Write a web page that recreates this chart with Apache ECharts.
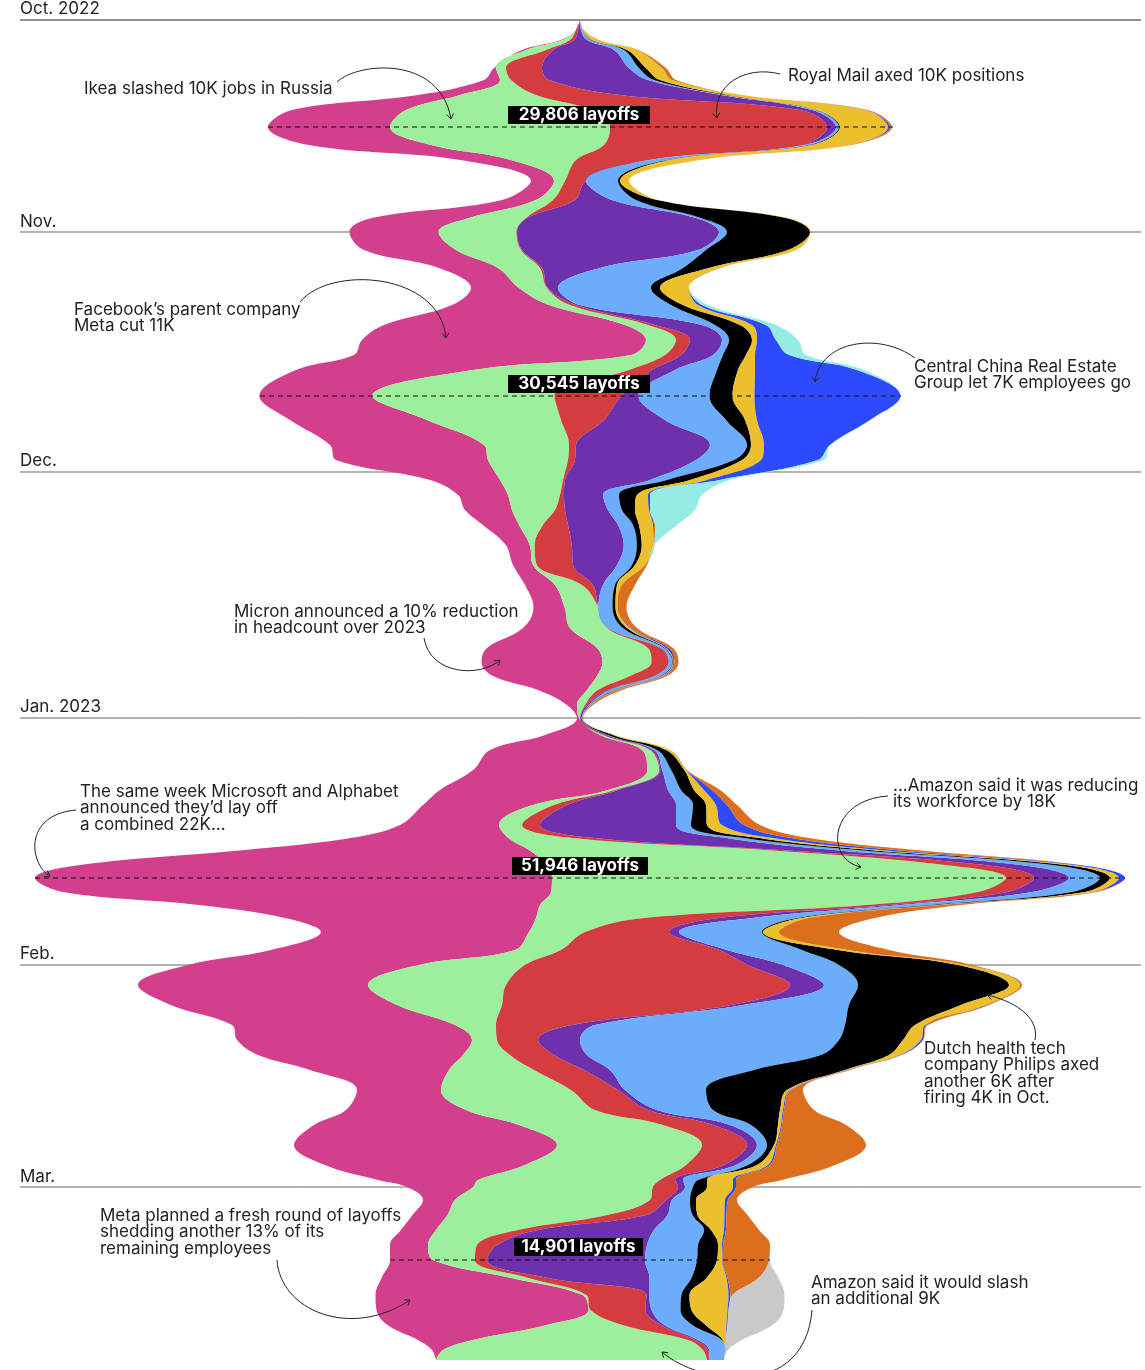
<!DOCTYPE html>
<html><head><meta charset="utf-8">
<style>html,body{margin:0;padding:0;background:#fff}#c{width:1145px;height:1370px}</style>
<script src="https://cdn.jsdelivr.net/npm/echarts@6/dist/echarts.min.js"></script>
</head><body><div id="c"></div>
<script>
// Time since the start of the chart, in 3-hour steps
const times=[0,10,20,30,48,60,75,90,107,125,140,161,180,198,212,230,248,268,285,305,320,335,350,376,400,425,440,460,475,490,505,525,545,565,587,608,628,642,656,670,685,698,715,730,750,770,785,805,818,830,845,858,872,885,898,912,930,945,965,985,1005,1020,1035,1050,1070,1090,1105,1125,1145,1160,1167,1180,1195,1210,1225,1240,1258,1275,1290,1305,1320,1330,1340];
// Layoffs per industry, in units of about 48 layoffs
const pink=[0,0,2,4,2,16,42,114,122,122,51,23,34,97,89,92,59,48,97,241,284,277,177,113,137,154,152,70,50,47,36,24,20,30,31,47,110,121,104,49,10,2,55,152,174,168,110,99,158,284,467,517,488,341,251,208,244,231,230,226,223,235,205,139,84,120,205,263,200,100,66,32,35,35,38,43,130,207,212,159,55,11,0];
const green=[0,0,7,20,10,11,76,185,220,173,65,11,17,57,78,65,42,28,21,23,30,34,156,182,134,85,80,63,52,43,24,5,4,27,34,37,51,49,33,11,8,1,3,8,12,7,21,23,64,237,398,454,427,326,108,56,46,106,138,105,41,25,47,85,130,129,144,145,161,182,180,195,160,82,49,42,17,4,2,76,215,260,271];
const red=[0,2,4,7,36,38,84,209,217,199,73,21,22,1,.5,1,2,1,6,7,14,16,23,67,43,7,7,2,4,10,25,37,36,11,0,1,12,17,24,10,2,.3,1,1,1,3,13,18,22,14,40,28,29,24,75,84,158,223,284,229,76,41,44,50,47,53,50,45,38,15,25,16,39,20,20,12,20,60,55,39,7,5,2];
const purple=[0,3,13,61,87,99,101,12,9,2,1,0,37,169,202,176,58,10,4,47,32,32,23,17,61,134,121,85,39,43,50,52,44,10,0,0,1,.5,1,2,2,1.5,3,3,2,50,109,136,132,54,36,35,25,10,33,10,8,35,34,12,23,42,33,26,7,9,17,10,12,8,7,6,21,116,150,158,101,3,6,3,3,1,0];
const skyBlue=[0,2,4,10,10,6,4,4,3,5,18,32,24,5,8,8,83,93,91,13,7,10,42,71,61,37,38,17,16,14,15,13,15,12,14,15,3,3.5,6,5,1,.5,1,3,9,13,17,15,18,24,32,31,40,32,46,83,75,56,34,106,250,259,234,144,81,56,21,10,12,15,8,18,25,50,51,52,42,32,29,28,24,16,15];
const black=[0,0,1,3,7,6,3,1,1,2,2,2,21,85,83,82,26,9,12,25,23,23,21,23,19,4,8,23,18,13,6,5,3,2,3,4,1,.5,1,1,.5,.2,5,9,13,13,13,16,15,12,13,10,13,6,4,1,36,119,151,112,70,64,68,91,81,67,27,7,9,9,14,6,5,7,20,20,15,8,11,13,1,0,0];
const yellow=[0,1,6,10,16,12,13,49,48,37,29,9,1,2,.5,8,12,29,15,12,5,9,17,22,12,13,19,17,11,14,14,12,10,5,2,3,1,.5,1,1,.5,.2,2,4,2,10,10,15,14,10,8,9,8,4,7,16,10,8,11,25,10,18,11,2,3,3,3,2,11,26,26,29,27,13,4,5,20,39,36,21,3,1,0];
const royalBlue=[0,0,0,0,0,0,0,1,2,0,0,0,0,0,0,0,0,0,4,14,19,34,102,146,113,66,57,13,2,1,1,0,0,0,0,1,3,1,1,1,0,0,0,0,.5,8,11,22,18,15,6,6,0,0,0,0,0,0,0,1,1,2,1,1,1,1,1,1,2,3,3,3,2,2,1,.5,1,2,1,1,0,0,0];
const orange=[0,0,1,1,4,4,1,1,2,2,1,0,0,0,0,0,0,0,0,0,0,0,0,0,0,0,0,0,0,0,1,.5,2,13,9,6,4,4,3,4,2,.3,0,0,0,8,10,16,18,20,0,0,4,19,66,60,41,6,2,2,2,0,1,2,12,30,64,89,65,46,17,9,21,33,47,46.5,31,2,0,0,0,0,0];
const cyan=[0,0,0,0,0,0,0,0,0,0,0,0,0,0,0,0,0,0,6,10,22,17,7,0,0,0,6,10,52,45,22,0,0,0,0,0,0,0,0,0,0,0,0,0,0,0,0,0,0,0,0,0,0,0,0,0,0,0,0,0,0,0,0,0,0,0,0,0,0,0,0,0,0,0,0,0,0,0,0,0,0,0,0];
const gray=[0,0,0,0,0,0,0,0,0,0,0,0,0,0,0,0,0,0,0,0,0,0,0,0,0,0,0,0,0,0,0,0,0,0,0,0,0,0,0,0,0,0,0,0,0,0,0,0,0,0,0,0,0,0,0,0,0,0,0,0,0,0,0,0,0,0,0,0,0,0,0,0,0,0,0,1,20,52,55,45,16,2,0];

const layerNames=['Pink','Green','Red','Purple','Sky blue','Black','Yellow','Royal blue','Orange','Cyan','Gray'];
const layers=[pink,green,red,purple,skyBlue,black,yellow,royalBlue,orange,cyan,gray];
const layerColors=['#d43f8d','#9df09b','#d43d3f','#6f30ae','#6bacfb','#000000','#ecc02c','#2e4aff','#dc6f1e','#95ece5','#c9c9c9'];

const months=[['Oct. 2022',0,-11],['Nov.',212,-10],['Dec.',452,-11],['Jan. 2023',698,-11],['Feb.',945,-11],['Mar.',1167,-10]];
const peaks=[['29,806 layoffs',107,268,893,508,650,-21],['30,545 layoffs',376,260,901,508,650,-21],['51,946 layoffs',858,35,1125,512,648,-21],['14,901 layoffs',1240,390,770,514,643,-22]];
const notes=[
 [84,89,['Ikea slashed 10K jobs in Russia']],
 [788,76,['Royal Mail axed 10K positions']],
 [74,310,['Facebook’s parent company','Meta cut 11K']],
 [914,367,['Central China Real Estate','Group let 7K employees go']],
 [234,612,['Micron announced a 10% reduction','in headcount over 2023']],
 [80,792,['The same week Microsoft and Alphabet','announced they’d lay off','a combined 22K...']],
 [893,786,['...Amazon said it was reducing','its workforce by 18K']],
 [924,1049,['Dutch health tech','company Philips axed','another 6K after','firing 4K in Oct.']],
 [100,1216,['Meta planned a fresh round of layoffs','shedding another 13% of its','remaining employees']],
 [811,1283,['Amazon said it would slash','an additional 9K']]
];
const arrows=[
 [337,82,358,62,440,55,451,119],
 [780,74,745,65,712,85,717,118],
 [300,302,330,265,440,272,446,338],
 [915,358,880,332,820,340,815,382],
 [424,638,430,675,480,678,500,660],
 [76,810,22,815,30,865,50,876],
 [888,796,828,800,825,860,861,867],
 [1035,1040,1040,1015,1010,1000,987,995],
 [277,1260,280,1310,350,1340,410,1300],
 [812,1310,805,1400,700,1385,662,1352]
];

const STEP=3*3600*1000, START=Date.UTC(2022,9,5,12);
const toDate=t=>START+t*STEP;
const totals=times.map((_,i)=>layers.reduce((s,l)=>s+l[i],0));
const maxTotal=Math.max(...totals);
const offset=totals.map(s=>(maxTotal-s)/2); // centres the stream (a silhouette baseline)

const areaSeries=(name,vals,color)=>({
  type:'line',name,stack:'stream',smooth:0.38,showSymbol:false,silent:true,
  lineStyle:{width:0},areaStyle:color?{color,opacity:1}:{opacity:0},itemStyle:{color:color||'transparent'},
  data:vals.map((v,i)=>[v,toDate(times[i])])
});

const chart=echarts.init(document.getElementById('c'),null,{renderer:'canvas'});
chart.setOption({
 animation:false,
 backgroundColor:'#fff',
 grid:{left:35,width:1090,top:20,height:1340},
 xAxis:{type:'value',min:0,max:maxTotal,show:false},
 yAxis:{type:'time',inverse:true,min:toDate(0),max:toDate(1340),show:false},
 series:[areaSeries('baseline',offset,null),...layers.map((l,i)=>areaSeries(layerNames[i],l,layerColors[i]))]
});

const yOf=t=>chart.convertToPixel({yAxisIndex:0},toDate(t));
const font='Inter, "Liberation Sans", sans-serif';
const g=[];
months.forEach(([name,t,dy],i)=>{
  const y=yOf(t);
  g.push({type:'line',z:-1,silent:true,shape:{x1:20,y1:y,x2:1141,y2:y},style:{stroke:i===0?'#222':'#666',lineWidth:1}});
  g.push({type:'text',z:5,x:20,y:y+dy,style:{text:name,font:'17px '+font,fill:'#222',textVerticalAlign:'middle'}});
});
peaks.forEach(([txt,t,x1,x2,bx1,bx2,dy])=>{
  const y=yOf(t);
  g.push({type:'line',z:20,shape:{x1,y1:y,x2,y2:y},style:{stroke:'#111',lineWidth:1,lineDash:[5,4]}});
  g.push({type:'rect',z:30,shape:{x:bx1,y:y+dy,width:bx2-bx1,height:18},style:{fill:'#000'}});
  g.push({type:'text',z:31,x:(bx1+bx2)/2,y:y+dy+9,style:{text:txt,font:'bold 17px '+font,fill:'#fff',textAlign:'center',textVerticalAlign:'middle'}});
});
notes.forEach(([x,y,lines])=>lines.forEach((ln,i)=>{
  g.push({type:'text',z:25,x,y:y+i*16.3,style:{text:ln,font:'17px '+font,fill:'#222',textVerticalAlign:'middle'}});
}));
arrows.forEach(a=>{
  const [x1,y1,c1x,c1y,c2x,c2y,x2,y2]=a;
  g.push({type:'bezierCurve',z:22,shape:{x1,y1,cpx1:c1x,cpy1:c1y,cpx2:c2x,cpy2:c2y,x2,y2},style:{stroke:'#222',lineWidth:1,fill:null}});
  const ang=Math.atan2(y2-c2y,x2-c2x),h=6;
  g.push({type:'polyline',z:22,shape:{points:[[x2-h*Math.cos(ang-0.6),y2-h*Math.sin(ang-0.6)],[x2,y2],[x2-h*Math.cos(ang+0.6),y2-h*Math.sin(ang+0.6)]]},style:{stroke:'#222',lineWidth:1,fill:null}});
});
chart.setOption({graphic:{elements:g}});
</script></body></html>
